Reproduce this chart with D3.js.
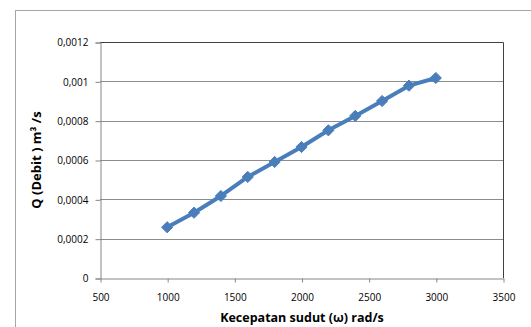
<!DOCTYPE html>
<html>
<head>
<meta charset="utf-8">
<script src="https://cdn.jsdelivr.net/npm/d3@7"></script>
<style>
  body { margin: 0; background: #fff; }
  text { font-family: "Open Sans", "Noto Sans", sans-serif; fill: #000; }
</style>
</head>
<body>
<script>
const w = 531, h = 327;

const speeds = [1000, 1200, 1400, 1600, 1800, 2000, 2200, 2400, 2600, 2800, 3000];
const debit = [0.000258, 0.000332, 0.000417, 0.000514, 0.00059, 0.000666, 0.000751, 0.000824, 0.0009, 0.000978, 0.001017];
const xTicks = [500, 1000, 1500, 2000, 2500, 3000, 3500];
const yTicks = [0, 0.0002, 0.0004, 0.0006, 0.0008, 0.001, 0.0012];
const yTickLabels = ['0', '0,0002', '0,0004', '0,0006', '0,0008', '0,001', '0,0012'];

const plot = { left: 100, top: 42, right: 503, bottom: 278 };

const x = d3.scaleLinear().domain([500, 3500]).range([plot.left, plot.right]);
const y = d3.scaleLinear().domain([0, 0.0012]).range([plot.bottom, plot.top]);

const svg = d3.select('body').append('svg')
    .attr('width', w)
    .attr('height', h);

// chart frame
svg.append('rect')
    .attr('x', 15.5).attr('y', 10.5)
    .attr('width', 540).attr('height', 340)
    .attr('fill', '#fff')
    .attr('stroke', '#a6a6a6');

// gridlines
svg.append('g')
    .selectAll('line')
    .data(yTicks.slice(1, -1))
    .join('line')
    .attr('x1', plot.left).attr('x2', plot.right)
    .attr('y1', d => Math.round(y(d)) + 0.5)
    .attr('y2', d => Math.round(y(d)) + 0.5)
    .attr('stroke', '#8c8c8c');

// plot border (top, right)
svg.append('path')
    .attr('d', `M${plot.left},${plot.top + 0.5}H${plot.right + 0.5}V${plot.bottom}`)
    .attr('fill', 'none')
    .attr('stroke', '#404040');

const yAxis = svg.append('g')
    .attr('transform', `translate(${plot.left + 0.5},0.5)`)
    .call(d3.axisLeft(y).tickValues(yTicks).tickSize(5).tickPadding(7)
        .tickFormat((d, i) => yTickLabels[i]));
yAxis.select('.domain').attr('stroke', '#868686');
yAxis.selectAll('.tick line').attr('stroke', '#868686');
yAxis.selectAll('text').attr('font-size', 10);

const xAxis = svg.append('g')
    .attr('transform', `translate(0.5,${plot.bottom + 0.5})`)
    .call(d3.axisBottom(x).tickValues(xTicks).tickSize(4).tickPadding(11).tickSizeOuter(0)
        .tickFormat(d3.format('d')));
xAxis.select('.domain').attr('stroke', '#868686');
xAxis.selectAll('.tick line').attr('stroke', '#868686');
xAxis.selectAll('text').attr('font-size', 10);

const pts = speeds.map((s, i) => [s, debit[i]]);

svg.append('path')
    .datum(pts)
    .attr('fill', 'none')
    .attr('stroke', '#4a7ebb')
    .attr('stroke-width', 4)
    .attr('stroke-linejoin', 'round')
    .attr('d', d3.line().x(d => x(d[0])).y(d => y(d[1])));

svg.append('g')
    .selectAll('path')
    .data(pts)
    .join('path')
    .attr('transform', d => `translate(${x(d[0])},${y(d[1])})`)
    .attr('d', d3.symbol(d3.symbolDiamond2, 80))
    .attr('fill', '#4a7ebb')
    .attr('stroke', '#4a7ebb')
    .attr('stroke-width', 1);

// axis titles
svg.append('text')
    .attr('transform', 'translate(41,160) rotate(-90)')
    .attr('text-anchor', 'middle')
    .attr('font-size', 13)
    .attr('font-weight', 'bold')
    .text('Q (Debit ) m³ /s');

svg.append('text')
    .attr('x', 302).attr('y', 322)
    .attr('text-anchor', 'middle')
    .attr('font-size', 12.5)
    .attr('font-weight', 'bold')
    .text('Kecepatan sudut  (ω) rad/s');
</script>
</body>
</html>
